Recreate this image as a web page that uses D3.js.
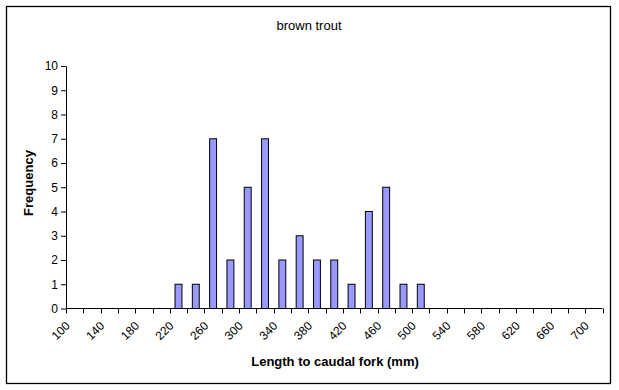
<!DOCTYPE html>
<html>
<head>
<meta charset="utf-8">
<script src="https://cdn.jsdelivr.net/npm/d3@7"></script>
<style>
  body { margin: 0; background: #fff; }
  text { font-family: "Liberation Sans", Arial, sans-serif; fill: #000; }
</style>
</head>
<body>
<div id="chart"></div>
<script>
const svgWidth = 619;
const svgHeight = 390;

// length bins (mm), every 20 from 100 to 700
const bins = [100, 120, 140, 160, 180, 200, 220, 240, 260, 280, 300, 320, 340, 360, 380, 400,
  420, 440, 460, 480, 500, 520, 540, 560, 580, 600, 620, 640, 660, 680, 700];
const counts = [0, 0, 0, 0, 0, 0, 1, 1, 7, 2, 5, 7, 2, 3, 2, 2,
  1, 4, 5, 1, 1, 0, 0, 0, 0, 0, 0, 0, 0, 0, 0];
const yTicks = [0, 1, 2, 3, 4, 5, 6, 7, 8, 9, 10];

const plot = { left: 66, right: 602.5, top: 66, bottom: 308.5 };

const svg = d3.select('#chart').append('svg')
  .attr('width', svgWidth)
  .attr('height', svgHeight);

// chart border
svg.append('rect')
  .attr('x', 6.5).attr('y', 6.5)
  .attr('width', 604).attr('height', 377)
  .attr('fill', '#fff')
  .attr('stroke', '#000')
  .attr('stroke-width', 1.3);

const x = d3.scaleBand()
  .domain(bins)
  .range([plot.left, plot.right])
  .paddingInner(0)
  .paddingOuter(0);

const y = d3.scaleLinear()
  .domain([0, 10])
  .range([plot.bottom, plot.top]);

// bars (gap width 150%)
const barW = x.bandwidth() / 2.5;
svg.selectAll('rect.bar')
  .data(bins.map((b, i) => ({ b, v: counts[i] })).filter(d => d.v > 0))
  .enter()
  .append('rect')
  .attr('class', 'bar')
  .attr('x', d => x(d.b) + (x.bandwidth() - barW) / 2)
  .attr('y', d => y(d.v))
  .attr('width', barW)
  .attr('height', d => y(0) - y(d.v))
  .attr('fill', '#9999FF')
  .attr('stroke', '#000')
  .attr('stroke-width', 1);

// y axis
const yAxis = svg.append('g')
  .attr('transform', `translate(${plot.left},0)`)
  .call(d3.axisLeft(y).tickValues(yTicks).tickSize(5).tickPadding(3).tickSizeOuter(0));
yAxis.select('.domain').attr('stroke', '#000');
yAxis.selectAll('text')
  .style('font-size', '12px')
  .style('font-family', '"Liberation Sans", Arial, sans-serif');

// x axis: ticks between categories
const xAxisG = svg.append('g');
xAxisG.append('line')
  .attr('x1', plot.left).attr('x2', plot.right)
  .attr('y1', plot.bottom).attr('y2', plot.bottom)
  .attr('stroke', '#000');
xAxisG.selectAll('line.tick')
  .data(bins.concat(['end']))
  .enter()
  .append('line')
  .attr('class', 'tick')
  .attr('x1', d => Math.round(d === 'end' ? plot.right : x(d)) + 0.5)
  .attr('x2', d => Math.round(d === 'end' ? plot.right : x(d)) + 0.5)
  .attr('y1', plot.bottom)
  .attr('y2', plot.bottom + 5)
  .attr('stroke', '#000');

xAxisG.selectAll('text.lab')
  .data(bins.filter((b, i) => i % 2 === 0))
  .enter()
  .append('text')
  .attr('class', 'lab')
  .attr('text-anchor', 'end')
  .attr('font-size', '12px')
  .attr('transform', d => `translate(${x(d) + x.bandwidth() / 2 - 4},${plot.bottom + 18}) rotate(-45)`)
  .text(d => d);

// titles
svg.append('text')
  .attr('x', 309).attr('y', 30)
  .attr('text-anchor', 'middle')
  .attr('font-size', '13px')
  .text('brown trout');

svg.append('text')
  .attr('x', 335).attr('y', 366)
  .attr('text-anchor', 'middle')
  .attr('font-size', '13px')
  .attr('font-weight', 'bold')
  .text('Length to caudal fork (mm)');

svg.append('text')
  .attr('transform', 'translate(33,183) rotate(-90)')
  .attr('text-anchor', 'middle')
  .attr('font-size', '13px')
  .attr('font-weight', 'bold')
  .text('Frequency');
</script>
</body>
</html>
